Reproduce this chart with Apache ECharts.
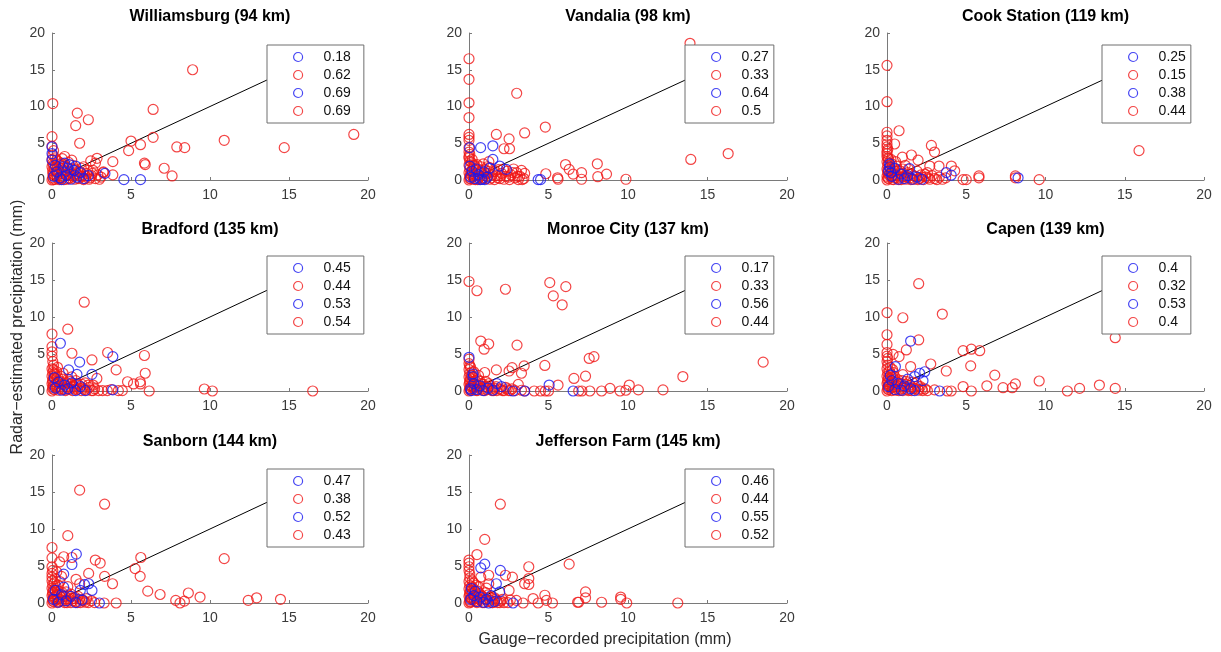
<!DOCTYPE html>
<html>
<head>
<meta charset="utf-8">
<script src="https://cdn.jsdelivr.net/npm/echarts@6/dist/echarts.min.js"></script>
<style>
  html, body { margin: 0; padding: 0; background: #ffffff; }
  #chart { width: 1221px; height: 652px; }
</style>
</head>
<body>
<div id="chart"></div>
<script>
// ---- Station metadata -------------------------------------------------------
const stations = ['Williamsburg', 'Vandalia', 'Cook Station', 'Bradford',
                  'Monroe City', 'Capen', 'Sanborn', 'Jefferson Farm'];
const distancesKm = [94, 98, 119, 135, 137, 139, 144, 145];

// Correlation coefficients shown in each panel's key (blue, red, blue, red)
const legendValues = [
  [0.18, 0.62, 0.69, 0.69],
  [0.27, 0.33, 0.64, 0.5],
  [0.25, 0.15, 0.38, 0.44],
  [0.45, 0.44, 0.53, 0.54],
  [0.17, 0.33, 0.56, 0.44],
  [0.4, 0.32, 0.53, 0.4],
  [0.47, 0.38, 0.52, 0.43],
  [0.46, 0.44, 0.55, 0.52]
];

// Axis ticks (mm)
const axisTicks = [0, 5, 10, 15, 20];
const identityLine = [[0, 0], [17, 17]];

// ---- Gauge (x) vs radar (y) precipitation pairs, mm ---------------------------
const williamsburgRed = [
  [8.9,15.0],[0.05,10.4],[1.6,9.1],[1.5,7.4],[2.3,8.2],[6.4,9.6],[0,5.9],[1.75,5.0],[5.0,5.3],[5.6,4.8],
  [6.4,5.8],[4.85,4.0],[7.9,4.5],[8.4,4.4],[10.9,5.4],[14.7,4.4],[19.1,6.2],[5.85,2.3],[5.9,2.1],[7.1,1.6],
  [7.6,0.55],[3.85,2.5],[3.85,0.7],[3.25,1.1],[2.85,2.95],[2.75,2.3],[2.45,2.6],[0.8,3.2],[1.25,2.7],
  [0,0],[0.05,0.3],[0.1,0.8],[0.05,1.3],[0,1.8],[0.05,2.3],[0,2.8],[0.05,3.4],[0.1,4.0],[0,4.6],
  [0.2,0.1],[0.3,0.6],[0.35,1.2],[0.25,1.9],[0.4,2.5],[0.5,0.2],[0.6,0.9],[0.55,1.6],[0.7,0.4],[0.8,1.2],
  [0.9,0.1],[0.95,0.7],[1.0,1.7],[1.1,0.3],[1.2,1.0],[1.3,2.0],[1.35,0.5],[1.45,0.1],[1.5,1.4],[1.6,0.8],
  [1.7,0.2],[1.8,1.1],[1.9,0.5],[2.0,1.8],[2.1,0.2],[2.2,0.9],[2.35,0.1],[2.5,0.6],[2.6,1.3],[2.75,0.2],
  [2.9,0.7],[3.0,0.1],[3.1,0.4],[3.25,1.0],[0.15,1.5],[0.45,0.05],[0.75,2.1],[1.05,2.4],[0.2,3.0],[0.65,2.9],
  [0.1,0.05],[0.15,0.55],[0.25,1.05],[0.35,1.55],[0.45,2.05],[0.55,0.35],[0.65,1.35],[0.75,0.05],[0.85,0.75],
  [0.95,1.25],[1.05,0.15],[1.15,0.65],[1.25,1.55],[1.4,0.75],[1.55,0.25],[1.65,1.15],[1.75,0.55],[1.85,1.6],
  [2.0,0.05],[2.1,0.55],[2.25,1.3],[2.4,0.3],[2.55,0.9],[0.05,0.9],[0.1,2.05],[0.3,2.7],[0.6,2.3]
];
const williamsburgBlue = [
  [4.55,0.05],[5.6,0.05],[0,4.5],[0,3.6],[0,2.7],[0.8,2.3],[3.35,0.9],[1.0,1.6],
  [0.1,0.5],[0.3,1.1],[0.5,0.3],[0.7,1.8],[0.9,0.6],[1.2,0.1],[1.4,1.3],[1.6,0.4],[1.8,1.0],[2.0,0.2],
  [2.3,0.6],[0.2,2.0],[1.1,2.1],[0.6,0.05],[1.5,1.9]
];

const vandaliaRed = [
  [13.9,18.6],[0,16.5],[0,13.7],[0,10.5],[0,8.5],[3.0,11.8],[0,6.2],[0,5.8],[0,5.4],[1.72,6.2],
  [2.52,5.6],[3.5,6.4],[4.8,7.2],[2.2,4.25],[2.55,4.25],[0,4.4],[0,3.8],[0,3.2],[6.07,2.1],[6.3,1.45],
  [6.55,0.8],[8.07,2.2],[8.65,0.8],[8.1,0.45],[7.08,1.0],[7.08,0.1],[5.57,0.3],[5.6,0.1],[4.83,0.85],
  [9.87,0.1],[13.95,2.8],[16.3,3.6],
  [0,0],[0.05,0.5],[0,1.0],[0.05,1.5],[0,2.0],[0.05,2.6],[0,3.0],[0.1,0.2],[0.2,0.9],[0.25,1.6],
  [0.3,0.1],[0.4,0.6],[0.45,1.3],[0.5,2.1],[0.6,0.3],[0.7,1.0],[0.75,1.8],[0.85,0.1],[0.95,0.6],[1.0,1.4],
  [1.1,0.2],[1.2,0.9],[1.3,1.7],[1.4,0.3],[1.5,1.1],[1.6,0.05],[1.75,0.6],[1.85,1.4],[1.95,0.2],[2.05,0.9],
  [2.2,0.1],[2.3,0.5],[2.4,1.2],[2.55,0.05],[2.65,0.7],[2.8,1.5],[2.9,0.3],[3.0,1.0],[3.1,0.05],[3.2,0.5],
  [3.3,1.3],[3.45,0.2],[3.5,0.9],[0.15,2.4],[0.35,2.0],[0.9,2.2],[1.25,2.5],[0.55,0.05],
  [0.05,0.2],[0.1,0.7],[0.15,1.2],[0.25,0.4],[0.3,1.9],[0.4,0.05],[0.5,0.8],[0.6,1.5],[0.7,0.5],[0.8,1.3],
  [0.9,0.3],[1.05,0.9],[1.15,1.8],[1.3,0.1],[1.45,0.7],[1.65,1.2],[1.8,0.3],[2.0,0.6],[2.15,1.5],[2.5,0.4],
  [2.75,1.0],[3.05,0.5],[3.35,0.05],[0.05,3.5],[0.2,2.8]
];
const vandaliaBlue = [
  [0.73,4.4],[1.5,4.65],[1.5,2.8],[1.93,1.9],[0.04,4.4],[4.35,0.05],[4.5,0.05],[2.35,1.45],[0.45,1.5],
  [0.1,0.4],[0.2,1.2],[0.35,0.2],[0.6,0.7],[0.8,0.1],[0.95,1.1],[1.15,0.4],[1.3,1.6],[0.05,1.9],
  [0.7,0.05],[1.0,0.05]
];

const cookStationRed = [
  [0,15.6],[0,10.65],[0,6.5],[0,6.0],[0,5.4],[0.76,6.7],[0.48,4.9],[2.8,4.7],[3.0,3.8],[0.97,3.1],
  [1.54,3.4],[1.96,2.7],[0,4.9],[0,4.5],[0,3.9],[0,3.2],[4.06,1.9],[4.27,1.25],[3.28,1.9],[2.7,1.9],
  [4.8,0.05],[5.0,0.05],[5.8,0.55],[5.8,0.3],[8.1,0.55],[8.1,0.3],[9.6,0.05],[15.9,4.0],
  [0,0],[0,0.5],[0.05,1.0],[0,1.5],[0.05,2.0],[0,2.5],[0.05,3.0],[0,3.6],[0.1,0.2],[0.15,0.8],
  [0.2,1.4],[0.3,2.2],[0.35,0.1],[0.45,0.6],[0.5,1.2],[0.6,1.9],[0.7,0.3],[0.8,0.9],[0.9,0.05],[1.0,1.5],
  [1.1,0.5],[1.2,0.1],[1.3,1.0],[1.45,0.3],[1.55,0.8],[1.7,0.1],[1.8,0.5],[1.9,1.2],[2.05,0.2],[2.15,0.7],
  [2.3,0.05],[2.45,0.4],[2.55,1.0],[2.7,0.1],[2.85,0.6],[3.0,0.2],[3.15,0.05],[3.3,0.4],[3.5,0.1],[3.7,0.3],
  [0.25,2.8],[0.55,2.5],[1.15,2.0],[0.4,0.05],
  [0.05,0.25],[0.1,0.7],[0.05,1.25],[0.15,1.7],[0.1,2.3],[0.25,0.45],[0.3,1.05],[0.4,1.6],[0.5,0.3],[0.6,0.7],
  [0.65,1.4],[0.75,0.05],[0.85,1.2],[0.95,0.4],[1.05,0.9],[1.25,0.4],[1.35,1.5],[1.5,0.05],[1.65,0.6],[1.95,0.05],
  [2.2,0.4],[2.4,0.8],[2.6,0.3],[0.05,4.2],[0.1,2.9]
];
const cookStationBlue = [
  [0.17,2.2],[0.17,1.8],[1.43,1.55],[0.1,1.2],[0.3,0.5],[0.5,1.6],[0.7,0.1],[0.9,0.8],[1.1,0.2],
  [1.3,0.6],[1.6,0.1],[1.9,0.4],[2.2,0.1],[0.25,1.0],[8.27,0.3],[3.74,1.0],[4.05,0.65]
];

const bradfordRed = [
  [2.04,12.0],[1.0,8.35],[0,7.7],[0,6.0],[0,5.3],[0,4.7],[1.26,5.1],[3.52,5.2],[2.53,4.2],[5.85,4.8],
  [4.06,2.85],[5.9,2.4],[4.78,1.25],[5.16,0.95],[5.58,1.25],[5.6,0.95],[6.15,0],[9.64,0.27],[10.15,0],
  [16.5,0],[2.84,1.7],[2.6,0.8],
  [0,0],[0.05,0.5],[0,1.0],[0.05,1.5],[0,2.0],[0.05,2.5],[0,3.0],[0.1,3.5],[0.15,0.2],[0.2,0.9],
  [0.25,1.7],[0.3,2.6],[0.4,0.1],[0.45,0.6],[0.5,1.3],[0.55,2.0],[0.65,0.3],[0.75,1.0],[0.85,0.05],[0.9,0.6],
  [1.0,1.6],[1.1,0.2],[1.2,0.9],[1.3,0.05],[1.4,0.5],[1.5,1.4],[1.6,0.2],[1.7,0.8],[1.85,0.05],[1.95,0.4],
  [2.1,1.1],[2.2,0.1],[2.35,0.5],[2.5,0.05],[2.7,0.3],[2.95,0.05],[3.2,0.05],[3.5,0.05],[3.75,0.2],[4.2,0.05],
  [4.45,0.05],[0.35,3.2],[0.2,2.2],[0.7,2.4],[1.25,1.9],
  [0.05,0.25],[0.1,0.75],[0.05,1.25],[0.1,1.75],[0.15,2.4],[0.25,0.5],[0.3,1.1],[0.35,1.9],[0.5,0.35],[0.6,0.9],
  [0.7,1.6],[0.8,0.2],[0.95,1.1],[1.05,0.4],[1.15,1.3],[1.35,0.7],[1.45,0.25],[1.55,1.0],[1.75,0.35],[1.9,0.9],
  [2.05,0.2],[2.3,0.8],[2.6,0.05],[0.05,4.0],[0.1,2.9]
];
const bradfordBlue = [
  [0.53,6.45],[1.75,3.9],[3.85,4.65],[2.53,2.25],[1.58,2.25],[1.05,2.85],[3.85,0.15],[0.2,0.4],
  [0.4,1.2],[0.6,0.1],[0.8,0.8],[1.0,0.3],[1.25,1.1],[1.5,0.05],[1.8,0.6],[2.1,0.05],[0.15,1.8]
];

const monroeCityRed = [
  [0,14.8],[0.5,13.55],[2.29,13.75],[5.08,14.65],[6.09,14.1],[5.3,12.85],[5.86,11.65],[0.74,6.75],
  [1.24,6.35],[0.95,5.65],[3.02,6.2],[7.56,4.4],[7.86,4.65],[4.77,3.45],[18.5,3.9],[3.47,3.4],[1.72,2.85],
  [0.99,2.5],[2.52,2.7],[2.71,3.15],[3.3,2.4],[6.6,1.7],[7.33,2.0],[13.45,1.95],[5.6,0.8],[8.87,0.35],
  [10.08,0.8],[9.87,0.1],[10.65,0.15],[12.2,0.15],[8.34,0],[9.5,0],[3.5,0],[4.1,0],[4.5,0],[4.8,0],
  [5.0,0],[6.9,0],[7.1,0],[7.6,0],[0,4.3],[0,3.7],[0,2.9],
  [0,0],[0.05,0.4],[0,0.9],[0.05,1.4],[0,1.9],[0.05,2.4],[0.1,0.1],[0.15,0.7],[0.2,1.2],[0.25,1.8],
  [0.35,0.2],[0.4,0.9],[0.5,0.05],[0.55,1.5],[0.65,0.4],[0.75,1.0],[0.85,0.1],[0.95,0.6],[1.05,1.3],[1.15,0.2],
  [1.3,0.7],[1.45,0.05],[1.6,0.4],[1.75,0.05],[1.9,0.3],[2.1,0.05],[2.3,0.5],[2.5,0.05],[2.7,0.3],[2.9,0.05],
  [3.1,0.9],[3.3,0.1],[0.3,2.6],[0.1,3.2],[0.6,2.1],
  [0.05,0.2],[0.1,0.6],[0.05,1.15],[0.1,1.65],[0.15,2.1],[0.25,0.35],[0.3,0.95],[0.4,1.4],[0.45,0.1],[0.6,0.7],
  [0.7,1.3],[0.8,0.3],[0.9,0.9],[1.0,0.05],[1.1,0.6],[1.25,1.0],[1.4,0.3],[1.55,0.05],[1.7,0.6],[2.0,0.2],
  [2.2,0.05],[2.4,0.3],[2.6,0.05],[0.05,3.4],[0.2,2.6]
];
const monroeCityBlue = [
  [0,4.55],[0.25,2.3],[0.25,1.95],[5.04,0.8],[6.55,0],[3.5,0],[2.77,0],[1.76,1.0],[2.04,0.6],
  [0.1,0.3],[0.3,1.0],[0.5,0.2],[0.7,0.7],[0.9,0.05],[1.2,0.4],[1.5,0.1],[0.15,0.05]
];

const capenRed = [
  [2.0,14.5],[0,10.6],[1.0,9.9],[3.49,10.4],[0,7.6],[0,6.3],[2.0,6.9],[1.22,5.55],[0,5.2],[0,4.7],
  [0.38,4.95],[0.76,4.65],[4.8,5.45],[5.32,5.65],[5.85,5.45],[5.28,3.4],[2.76,3.65],[3.74,2.7],[1.49,3.3],
  [6.8,2.15],[6.3,0.7],[4.8,0.6],[5.32,0],[7.32,0.45],[7.9,0.45],[8.1,0.95],[9.6,1.35],[11.38,0],
  [12.15,0.35],[13.4,0.8],[14.4,0.35],[14.4,7.2],[3.8,0],[4.05,0],[3.0,0.15],
  [0,0],[0.05,0.5],[0,1.0],[0.05,1.5],[0,2.0],[0.05,2.5],[0,3.0],[0.05,3.5],[0,4.0],[0.1,0.2],
  [0.15,0.9],[0.2,1.6],[0.25,2.3],[0.3,0.05],[0.4,0.5],[0.45,1.2],[0.55,0.1],[0.6,0.8],[0.7,1.5],[0.8,0.3],
  [0.9,1.0],[1.0,0.05],[1.1,0.6],[1.2,1.3],[1.3,0.2],[1.45,0.8],[1.55,0.05],[1.7,0.4],[1.85,1.1],[2.0,0.1],
  [2.1,0.6],[2.25,0.05],[2.4,0.3],[2.55,0.05],[0.35,2.9],[0.5,1.9],[1.0,2.2],
  [0.05,0.25],[0.1,0.75],[0.05,1.25],[0.1,1.8],[0.15,2.6],[0.25,0.4],[0.3,1.1],[0.35,1.8],[0.45,0.2],[0.55,0.6],
  [0.65,1.2],[0.75,0.05],[0.85,0.7],[0.95,1.4],[1.05,0.35],[1.2,0.9],[1.35,0.05],[1.5,0.5],[1.6,1.2],[1.8,0.3],
  [1.95,0.7],[2.2,0.3],[0.05,4.4],[0.2,3.2],[0.4,2.5]
];
const capenBlue = [
  [1.49,6.75],[0.53,3.3],[1.75,1.95],[2.06,2.4],[2.38,2.6],[3.32,0],[2.27,1.4],[0.1,0.6],[0.3,1.4],
  [0.5,0.2],[0.7,1.0],[0.9,0.1],[1.1,0.7],[1.3,1.6],[1.5,0.3],[1.75,0.05],[0.2,2.1]
];

const sanbornRed = [
  [1.75,15.25],[3.33,13.35],[1.0,9.1],[0,7.5],[0,6.1],[0.74,6.25],[1.26,6.15],[0.48,5.55],[2.74,5.8],
  [3.05,5.4],[5.62,6.15],[5.26,4.65],[5.58,3.6],[10.9,6.0],[2.32,4.0],[1.52,3.2],[1.75,2.6],[3.33,3.6],
  [3.83,2.6],[6.06,1.6],[6.84,1.15],[7.83,0.35],[8.1,0],[8.38,0.25],[8.63,1.35],[9.37,0.8],[12.42,0.35],
  [12.95,0.7],[14.46,0.5],[4.06,0],[3.3,0],[0,4.9],[0,4.0],[0,3.5],
  [0,0],[0.05,0.5],[0,1.0],[0.05,1.5],[0,2.0],[0.05,2.5],[0,3.0],[0.1,0.2],[0.15,0.9],[0.2,1.5],
  [0.25,2.3],[0.35,0.05],[0.4,0.6],[0.45,1.2],[0.5,2.9],[0.6,0.3],[0.7,0.9],[0.8,0.05],[0.9,1.5],[1.0,0.4],
  [1.1,1.0],[1.2,0.05],[1.35,0.6],[1.5,0.2],[1.65,0.9],[1.8,0.05],[1.95,0.4],[2.1,0.1],[2.3,0.05],[2.5,0.3],
  [2.7,0.05],[0.3,4.2],[0.6,3.6],[1.0,2.2],
  [0.05,0.25],[0.1,0.75],[0.05,1.25],[0.1,1.8],[0.15,2.7],[0.25,0.4],[0.3,1.1],[0.35,1.7],[0.45,0.2],[0.55,0.8],
  [0.65,1.4],[0.75,0.3],[0.85,0.9],[0.95,0.05],[1.05,0.6],[1.2,1.2],[1.3,0.3],[1.45,0.8],[1.6,0.05],[1.75,0.5],
  [2.0,0.3],[2.2,0.6],[0.05,4.4],[0.2,3.3],[0.4,2.4]
];
const sanbornBlue = [
  [1.54,6.6],[1.26,5.2],[0.74,3.9],[0.74,2.15],[1.79,1.7],[2.06,2.5],[2.32,2.6],[2.53,1.7],[3.0,0],
  [0.2,1.7],[0.1,0.5],[0.4,0.1],[0.6,1.1],[0.9,0.3],[1.2,0.9],[1.5,0.05],[1.9,0.4]
];

const jeffersonFarmRed = [
  [1.97,13.35],[0.99,8.6],[0.5,6.55],[0,5.8],[0,5.4],[0,4.9],[0,4.4],[3.76,4.9],[6.3,5.25],[0.74,3.5],
  [1.24,3.75],[2.29,3.75],[2.73,3.5],[3.76,3.3],[3.5,2.6],[3.76,2.5],[1.24,2.6],[2.52,1.7],[4.03,0.6],
  [4.77,1.05],[7.33,1.5],[7.33,0.7],[6.83,0.1],[6.9,0.1],[8.34,0.1],[9.54,0.8],[9.54,0.5],[9.92,0],
  [13.13,0],[5.25,0],[4.35,0],[4.87,0.35],[2.98,0.35],[3.4,0],
  [0,0],[0.05,0.4],[0,0.9],[0.05,1.4],[0,1.9],[0.05,2.4],[0,2.9],[0.05,3.4],[0.1,0.1],[0.15,0.7],
  [0.2,1.3],[0.25,2.0],[0.35,0.3],[0.4,0.9],[0.5,0.05],[0.55,1.6],[0.65,0.5],[0.75,1.1],[0.85,0.05],[0.95,0.6],
  [1.05,1.4],[1.2,0.2],[1.35,0.8],[1.5,0.05],[1.65,0.5],[1.8,0.05],[2.0,0.3],[2.2,0.05],[2.45,0.05],[2.6,0.4],
  [0.3,2.7],[0.6,2.2],[1.1,2.0],
  [0.05,0.2],[0.1,0.65],[0.05,1.15],[0.1,1.65],[0.15,2.2],[0.25,0.45],[0.3,1.0],[0.35,1.6],[0.45,0.2],[0.55,0.75],
  [0.65,1.3],[0.75,0.35],[0.85,0.9],[0.95,0.05],[1.05,0.5],[1.2,1.1],[1.3,0.4],[1.45,0.05],[1.6,0.7],[1.75,0.3],
  [1.95,0.05],[2.1,0.5],[0.05,3.9],[0.2,3.0],[0.45,2.4]
];
const jeffersonFarmBlue = [
  [0.74,4.75],[0.99,5.25],[1.97,4.4],[1.72,2.6],[1.93,1.5],[2.77,0],[1.24,0],[0.15,1.95],[0.1,0.5],
  [0.3,1.0],[0.5,0.2],[0.7,0.8],[0.9,0.1],[1.1,0.5],[1.4,1.0],[1.6,0.2],[0.4,1.6]
];

const redPoints  = [williamsburgRed, vandaliaRed, cookStationRed, bradfordRed,
                    monroeCityRed, capenRed, sanbornRed, jeffersonFarmRed];
const bluePoints = [williamsburgBlue, vandaliaBlue, cookStationBlue, bradfordBlue,
                    monroeCityBlue, capenBlue, sanbornBlue, jeffersonFarmBlue];

// ---- Layout ------------------------------------------------------------------
const FONT = '"Liberation Sans", Arial, Helvetica, sans-serif';
const RED = '#f01818';
const BLUE = '#1818f0';
const colLeft = [52, 469, 887];
const colWidth = [316, 318, 317];
const rowTop = [33, 243, 455];
const rowHeight = [147, 148, 148];
const titleTop = [9, 222, 434];
const legendTop = [45, 256, 469];
const legendBoxWidth = [96, 88, 88];
const legendRightGap = [5, 14, 14];

const grid = [], xAxis = [], yAxis = [], title = [], legend = [], series = [];
const labelOf = {};

stations.forEach((name, i) => {
  const r = Math.floor(i / 3), c = i % 3;
  const left = colLeft[c], width = colWidth[c];
  grid.push({ left: left, top: rowTop[r], width: width, height: rowHeight[r], containLabel: false });

  const axisCommon = {
    min: axisTicks[0], max: axisTicks[axisTicks.length - 1],
    interval: axisTicks[1] - axisTicks[0],
    gridIndex: i,
    axisLine: { show: true, onZero: false, lineStyle: { color: '#7a7a7a', width: 1 } },
    axisTick: { show: true, inside: true, length: 3, lineStyle: { color: '#7a7a7a' } },
    splitLine: { show: false },
    axisLabel: { color: '#3a3a3a', fontFamily: FONT, fontSize: 14 }
  };
  xAxis.push(Object.assign({ type: 'value' }, axisCommon,
    { axisLabel: Object.assign({}, axisCommon.axisLabel, { margin: 8 }) }));
  yAxis.push(Object.assign({ type: 'value' }, axisCommon,
    { axisLabel: Object.assign({}, axisCommon.axisLabel, { margin: 7 }) }));

  title.push({
    text: name + ' (' + distancesKm[i] + ' km)',
    left: left + width / 2, top: titleTop[r], textAlign: 'center', padding: 0,
    textStyle: { fontFamily: FONT, fontSize: 16, fontWeight: 'bold', color: '#000' }
  });

  // 1:1 reference line
  series.push({
    type: 'line', xAxisIndex: i, yAxisIndex: i, data: identityLine,
    symbol: 'none', silent: true, z: 1,
    lineStyle: { color: '#000', width: 1 }
  });

  const colors = [BLUE, RED, BLUE, RED];
  const dataSets = [[], redPoints[i], bluePoints[i], []];
  const names = [];
  colors.forEach((col, k) => {
    const sname = 'p' + i + 'k' + k;
    names.push({ name: sname, icon: 'circle',
      itemStyle: { color: 'rgba(0,0,0,0)', borderColor: col, borderWidth: 1.2 } });
    labelOf[sname] = String(legendValues[i][k]);
    series.push({
      name: sname, type: 'scatter', xAxisIndex: i, yAxisIndex: i,
      data: dataSets[k], symbol: 'circle', symbolSize: 10, z: 2,
      itemStyle: { color: 'rgba(0,0,0,0)', borderColor: col, borderWidth: 1.2 },
      emphasis: { disabled: true }
    });
  });

  const boxRight = left + width - legendRightGap[c];
  legend.push({
    orient: 'vertical', left: boxRight - legendBoxWidth[c], top: legendTop[r],
    data: names, selectedMode: false,
    itemWidth: 9, itemHeight: 9, itemGap: 4,
    padding: [5, legendBoxWidth[c] - 26 - 57, 5, 26],
    backgroundColor: '#ffffff', borderColor: '#6e6e6e', borderWidth: 1, borderRadius: 0,
    formatter: n => labelOf[n],
    textStyle: { fontFamily: FONT, fontSize: 14, lineHeight: 14, color: '#111', padding: [0, 0, 0, 16] }
  });
});

const chart = echarts.init(document.getElementById('chart'), null, { renderer: 'canvas' });
chart.setOption({
  animation: false,
  backgroundColor: '#ffffff',
  grid: grid, xAxis: xAxis, yAxis: yAxis, title: title, legend: legend, series: series,
  graphic: [
    { type: 'text', x: 18, y: 327, rotation: Math.PI / 2,
      style: { text: 'Radar\u2212estimated precipitation (mm)', fontFamily: FONT, fontSize: 16,
               fill: '#2a2a2a', align: 'center', verticalAlign: 'middle' } },
    { type: 'text', x: 605, y: 640,
      style: { text: 'Gauge\u2212recorded precipitation (mm)', fontFamily: FONT, fontSize: 16,
               fill: '#2a2a2a', align: 'center', verticalAlign: 'middle' } }
  ]
});
</script>
</body>
</html>
